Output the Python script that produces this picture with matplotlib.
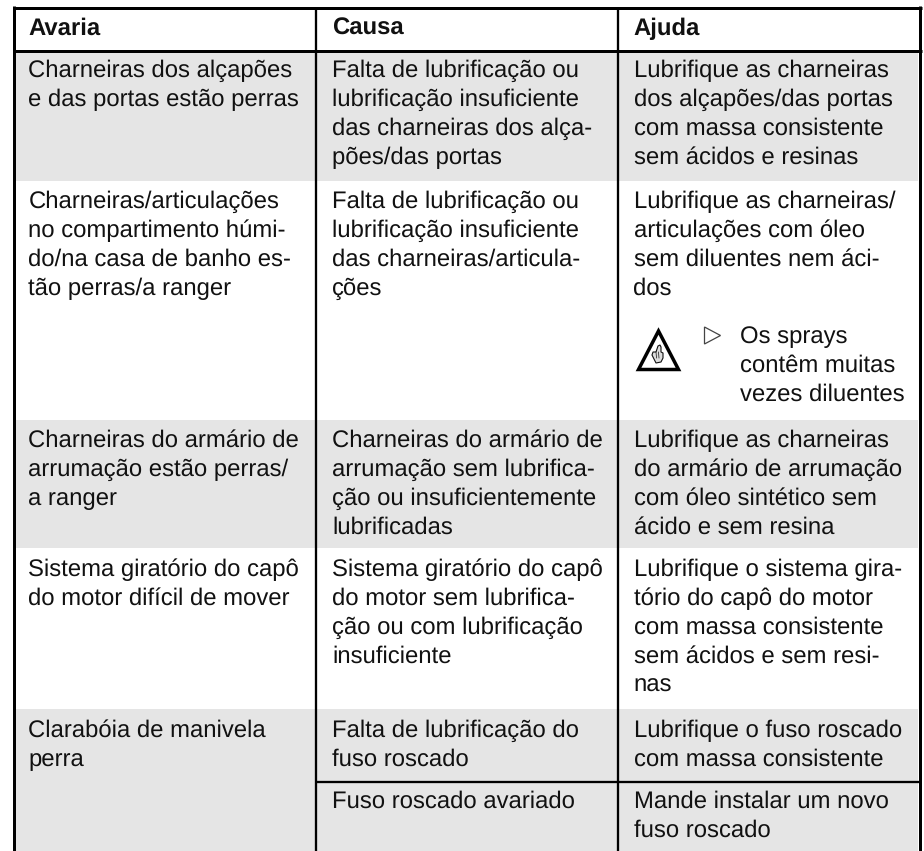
import matplotlib
matplotlib.use("Agg")
import matplotlib.pyplot as plt
from matplotlib.patches import Polygon, Rectangle

plt.rcParams["text.hinting"] = "none"

INK = "#111111"
GRIS = "#e5e5e5"

HEADERS = ["Avaria", "Causa", "Ajuda"]
AVARIA = [
    ["Charneiras dos alçapões", "e das portas estão perras"],
    ["Charneiras/articulações", "no compartimento húmi-", "do/na casa de banho es-", "tão perras/a ranger"],
    ["Charneiras do armário de", "arrumação estão perras/", "a ranger"],
    ["Sistema giratório do capô", "do motor difícil de mover"],
    ["Clarabóia de manivela", "perra"],
]
CAUSA = [
    ["Falta de lubrificação ou", "lubrificação insuficiente", "das charneiras dos alça-", "pões/das portas"],
    ["Falta de lubrificação ou", "lubrificação insuficiente", "das charneiras/articula-", "ções"],
    ["Charneiras do armário de", "arrumação sem lubrifica-", "ção ou insuficientemente", "lubrificadas"],
    ["Sistema giratório do capô", "do motor sem lubrifica-", "ção ou com lubrificação", "insuficiente"],
    ["Falta de lubrificação do", "fuso roscado"],
    ["Fuso roscado avariado"],
]
AJUDA = [
    ["Lubrifique as charneiras", "dos alçapões/das portas", "com massa consistente", "sem ácidos e resinas"],
    ["Lubrifique as charneiras/", "articulações com óleo", "sem diluentes nem áci-", "dos"],
    ["Lubrifique as charneiras", "do armário de arrumação", "com óleo sintético sem", "ácido e sem resina"],
    ["Lubrifique o sistema gira-", "tório do capô do motor", "com massa consistente", "sem ácidos e sem resi-", "nas"],
    ["Lubrifique o fuso roscado", "com massa consistente"],
    ["Mande instalar um novo", "fuso roscado"],
]
AVISO = ["Os sprays", "contêm muitas", "vezes diluentes"]

# geometría en píxeles de la imagen
COL_X = [28.5, 332, 633.5]
BASE_Y = [77, 208, 447, 576, 737, 808]
FS = 17.2
LH = 29.0

fig = plt.figure(figsize=(9.24, 8.51), dpi=100, facecolor="white")
ax = fig.add_axes([0, 0, 1, 1])
ax.set_xlim(0, 924); ax.set_ylim(851, 0); ax.set_axis_off()


def bloque(x, y, lineas):
    for i, t in enumerate(lineas):
        ax.text(x, y + i * LH, t, fontsize=FS, family="Liberation Sans", color=INK,
                ha="left", va="baseline", zorder=6)


def linea(xs, ys, px):
    ax.plot(xs, ys, color="black", lw=px * 0.72, solid_capstyle="butt", zorder=5)


# bandas grises
for y0, y1 in [(52, 181), (420, 548), (709, 851)]:
    ax.add_patch(Rectangle((14, y0), 904, y1 - y0, fc=GRIS, ec="none", zorder=1))

# textos
for x, h in zip(COL_X, HEADERS):
    ax.text(x, 35, h, fontsize=FS, family="Liberation Sans", fontweight="bold",
            color=INK, va="baseline", zorder=6)
for y, filas in zip(BASE_Y, AVARIA):
    bloque(COL_X[0], y, filas)
for y, f1, f2 in zip(BASE_Y, CAUSA, AJUDA):
    bloque(COL_X[1], y, f1)
    bloque(COL_X[2], y, f2)
bloque(740, 343, AVISO)

# aviso: triángulo con mano
ax.add_patch(Polygon([(658.5, 331), (638.5, 369.5), (678.5, 369.5)], closed=True, fc="white",
                     ec="black", lw=2.5, joinstyle="miter", zorder=3))
ax.add_patch(Polygon([(658, 346), (660, 345), (661, 347), (661, 352), (663, 353), (663, 358),
                      (661, 362), (656, 363), (654, 359), (652, 355), (653, 352), (656, 352)],
                     closed=True, fc="#dddddd", ec=INK, lw=0.8, zorder=4))
ax.plot([656, 656.5], [352, 358], color=INK, lw=0.5, zorder=4)
ax.plot([658.5, 659], [352, 358], color=INK, lw=0.5, zorder=4)
ax.add_patch(Polygon([(704.5, 327), (720.5, 335.5), (704.5, 344)], closed=True, fc="white",
                     ec="#444444", lw=0.9, zorder=3))

# líneas
linea([12.7, 921.7], [7.5, 7.5], 3)
linea([12.7, 921.7], [51, 51], 3)
linea([14.3, 14.3], [6, 851], 3)
linea([919.7, 919.7], [6, 851], 3)
linea([315.8, 315.8], [7, 851], 2.3)
linea([618, 618], [7, 851], 2.3)
linea([316, 919], [781.8, 781.8], 2.3)

fig.savefig("out.png", dpi=100)
